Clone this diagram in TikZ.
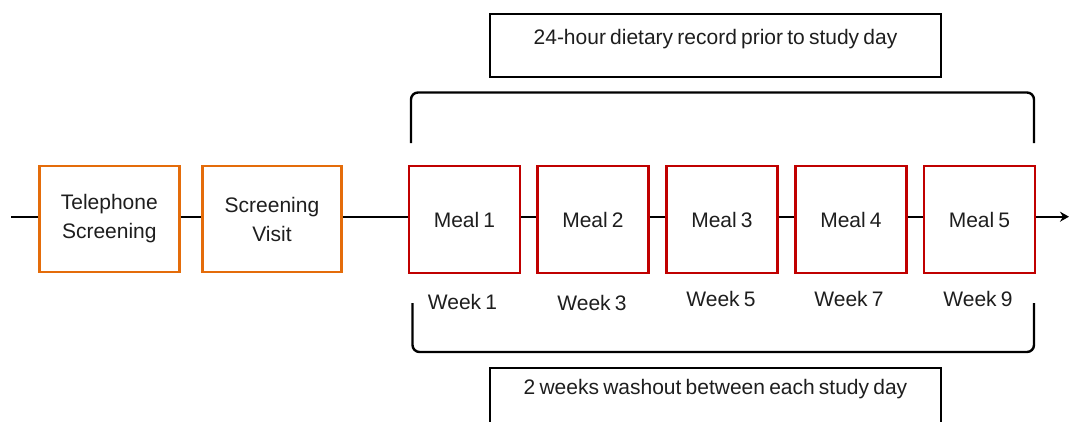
\documentclass[tikz,border=0pt]{standalone}
\usepackage{fontspec}
\setmainfont{Liberation Sans}
\usetikzlibrary{arrows.meta}
\definecolor{orng}{HTML}{E46C0A}
\definecolor{rd}{HTML}{C00000}
\definecolor{txt}{HTML}{1E1E1E}
\newcommand\myfnt{\fontsize{21}{29}\selectfont\spaceskip=0.2em plus 0.05em\relax}
\begin{document}
\begin{tikzpicture}[x=1pt,y=-1pt,
  every node/.style={font=\myfnt, text=txt, inner sep=0pt},
  screenbox/.style={draw=orng, line width=2.6pt, fill=white, minimum height=106pt, align=center},
  mealbox/.style={draw=rd, line width=2.4pt, fill=white, minimum width=111pt, minimum height=107pt},
  notebox/.style={draw=black, line width=2.4pt, minimum width=451pt},
  conn/.style={line width=2.4pt, black},
  brace/.style={line width=2.4pt, black, rounded corners=7pt}]
\useasboundingbox (0,0) rectangle (1069,421);
\clip (0,0) rectangle (1069,421);
\fill[white] (0,0) rectangle (1069,421);

% notes
\node[notebox, minimum height=63pt] (rec) at (715.5,45.5) {};
\node (rectext) at (715.5,39) {24-hour dietary record prior to study day};
\node[notebox, minimum height=120pt, anchor=north] (wash) at (715.5,366.7) {};
\node (washtext) at (715.5,389.5) {2 weeks washout between each study day};

% line level
\coordinate (ly) at (0,216.7);
\coordinate (start) at (11,216.7);
\coordinate (end) at (1069,216.7);

% boxes
\node[screenbox, minimum width=140pt] (tel) at (109.3,219) {Telephone\\Screening};
\node[screenbox, minimum width=139pt] (sv) at (272,219) {Screening\\Visit};
\node[mealbox] (m1) at (464.5,219.5) {Meal 1};
\node[mealbox] (m2) at (593,219.5) {Meal 2};
\node[mealbox] (m3) at (722,219.5) {Meal 3};
\node[mealbox] (m4) at (851,219.5) {Meal 4};
\node[mealbox] (m5) at (979.5,219.5) {Meal 5};

% week labels
\node (w1) at (462.5,301.5) {Week 1};
\node (w3) at (592,303) {Week 3};
\node (w5) at (721,298.5) {Week 5};
\node (w7) at (849,298.5) {Week 7};
\node (w9) at (978,298.5) {Week 9};

% connectors
\draw[conn] (start) -- (tel.west |- ly);
\draw[conn] (tel.east |- ly) -- (sv.west |- ly);
\draw[conn] (sv.east |- ly) -- (m1.west |- ly);
\draw[conn] (m1.east |- ly) -- (m2.west |- ly);
\draw[conn] (m2.east |- ly) -- (m3.west |- ly);
\draw[conn] (m3.east |- ly) -- (m4.west |- ly);
\draw[conn] (m4.east |- ly) -- (m5.west |- ly);
\draw[conn, -{Stealth[length=9pt,width=10pt]}] (m5.east |- ly) -- (end);

% brackets
\draw[brace] (411,143) -- (411,92.5) -- (1034,92.5) -- (1034,143);
\draw[brace] (412.5,303) -- (412.5,352) -- (1034,352) -- (1034,303);
\end{tikzpicture}
\end{document}
